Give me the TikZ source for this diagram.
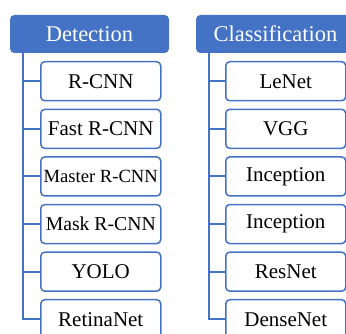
\documentclass[tikz,border=0pt]{standalone}
\usepackage{fontspec}
\setmainfont{Liberation Serif}
\definecolor{hdrblue}{RGB}{68,114,196}
\tikzset{
  hdr/.style={draw=hdrblue, fill=hdrblue, text=white, rounded corners=4pt, line width=1pt,
    minimum width=158pt, minimum height=37pt, inner sep=0pt, anchor=north west,
    font=\fontsize{22.5}{26}\selectfont},
  item/.style={draw=hdrblue, fill=white, text=black, rounded corners=4pt, line width=1.5pt,
    minimum width=120pt, minimum height=39pt, inner sep=0pt, anchor=north west,
    font=\fontsize{21}{25}\selectfont},
  link/.style={draw=hdrblue, line width=2pt}
}
\begin{document}
\begin{tikzpicture}[x=1pt,y=-1pt]
\useasboundingbox (0,0) rectangle (346,334);
\clip (0,0) rectangle (346,334);
% Detection column
\node[hdr] (dh) at (10,15) {Detection};
\coordinate (dtop) at (23,52);
\node[item] (d1) at (40,61) {R-CNN};
\node[item] (d2) at (40,108.6) {Fast R-CNN};
\node[item, font=\fontsize{18.6}{22}\selectfont] (d3) at (40,156.2) {Master R-CNN};
\node[item, font=\fontsize{19.7}{23}\selectfont] (d4) at (40,203.8) {Mask R-CNN};
\node[item] (d5) at (40,251.4) {YOLO};
\node[item] (d6) at (40,299) {RetinaNet};
\draw[link] (dtop) |- (d6.west);
\foreach \n in {d1,d2,d3,d4,d5} \draw[link] (\n.west -| dtop) -- (\n.west);
% Classification column
\node[hdr] (ch) at (196,15) {Classification};
\coordinate (ctop) at (209,52);
\node[item] (c1) at (225,61) {LeNet};
\node[item] (c2) at (225,108.6) {VGG};
\node[item] (c3) at (225,156.2) {Inception};
\node[item] (c4) at (225,203.8) {Inception};
\node[item] (c5) at (225,251.4) {ResNet};
\node[item] (c6) at (225,299) {DenseNet};
\draw[link] (ctop) |- (c6.west);
\foreach \n in {c1,c2,c3,c4,c5} \draw[link] (\n.west -| ctop) -- (\n.west);
\end{tikzpicture}
\end{document}
